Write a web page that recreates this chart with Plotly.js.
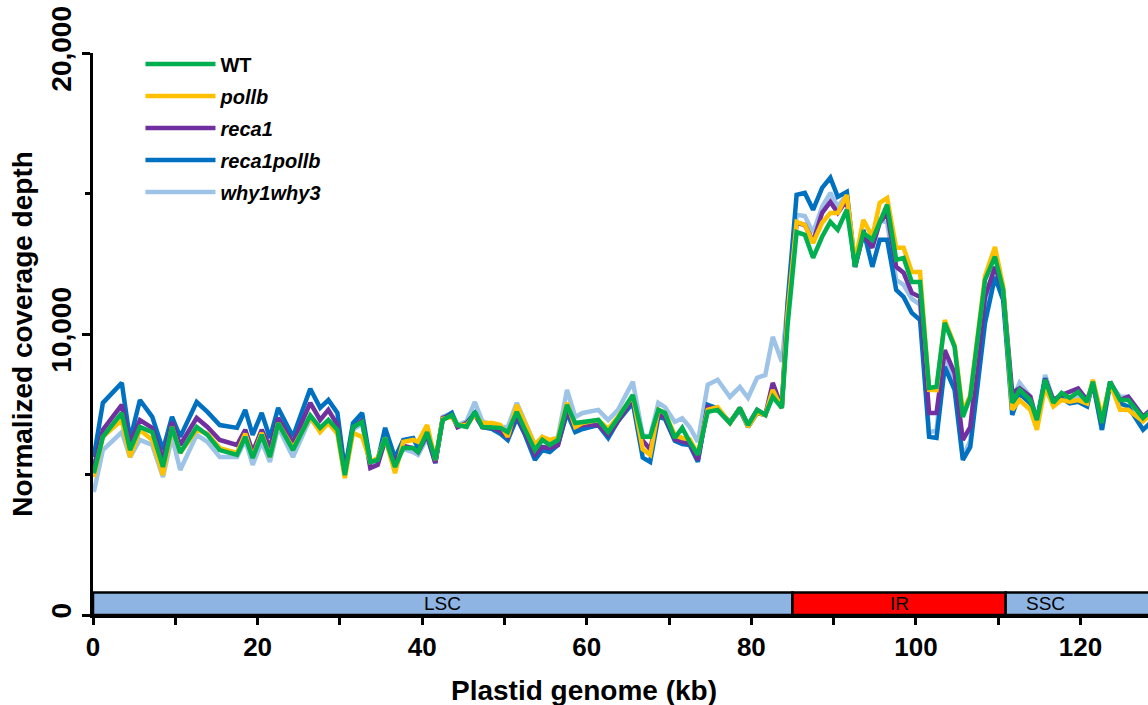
<!DOCTYPE html>
<html>
<head>
<meta charset="utf-8">
<script src="https://cdn.plot.ly/plotly-3.0.1.min.js"></script>
<style>html,body{margin:0;padding:0;background:#fff;}#chart{width:1148px;height:705px;}</style>
</head>
<body>
<div id="chart"></div>
<script>
// Position along plastid genome (kb)
const kb = [0.1,1.2,3.5,4.5,5.7,7.2,8.5,9.6,10.6,12.6,13.9,15.4,17.5,18.5,19.4,20.5,21.5,22.5,24.3,26.4,
27.6,28.6,29.7,30.6,31.6,32.7,33.7,34.6,35.5,36.7,37.7,38.9,39.5,40.6,41.6,42.5,43.6,44.3,45.4,46.4,
47.3,48.5,49.5,50.4,51.5,52.5,53.7,54.6,55.5,56.5,57.6,58.6,59.5,61.4,62.6,63.8,65.6,66.8,67.7,68.7,
69.5,70.7,71.6,72.5,73.5,74.7,75.9,77.4,78.6,79.6,80.7,81.7,82.6,83.7,84.4,85.5,86.5,87.5,88.6,89.6,
90.5,91.6,92.6,93.6,94.7,95.6,96.5,97.6,98.5,99.5,100.5,101.6,102.5,103.5,104.7,105.7,106.6,108.4,109.6,110.6,
111.7,112.6,113.9,114.7,115.7,116.7,117.7,118.7,119.7,120.8,121.5,122.6,123.6,124.8,125.8,127.6,128.7];

const wt = [5050,6340,7190,5870,6690,6510,5270,6690,5770,6690,6410,5870,5700,6340,5590,6410,5620,6830,5870,7100,
6660,6940,6590,4980,6690,6870,5450,5520,6300,5270,5940,5940,5800,6510,5520,6940,7120,6760,6690,7230,
6690,6690,6660,6510,7230,6590,5870,6230,6050,6230,7480,6830,6870,6940,6510,7010,7830,6340,6340,7300,
7190,6300,6660,6160,5700,7230,7300,6830,7370,6760,7300,7120,7760,7370,10300,13630,13530,12710,13460,13990,
13710,14420,12390,13600,13350,13960,14600,12640,12710,11850,11850,8080,8120,10400,9540,7050,7760,11930,12750,11570,
7550,8010,7650,6940,8370,7550,7900,7730,7940,7580,8300,6830,8300,7650,7650,7010,7300];

const pollb = [4910,6340,6940,5620,6590,6230,4980,6690,5770,6590,6450,5940,5770,6450,5620,6480,5620,6830,5940,7050,
6510,6830,6450,4870,6480,6340,5450,5590,6300,5050,6160,6230,6160,6760,5520,6980,7050,6760,6760,7120,
6830,6830,6760,6340,7480,6800,6050,6340,6230,6300,7550,6690,6830,6940,6620,7050,7800,5900,5700,7300,
7190,6400,6300,6250,5730,7300,7400,6830,7370,6700,7200,7120,8010,7370,10700,13990,13880,13240,13960,14310,
14310,14950,12530,14060,13460,14670,14840,13070,13070,12210,12210,8010,8000,10500,9600,7250,7800,12060,13100,11700,
7300,7650,7300,6590,8120,7420,7650,7590,7650,7530,8370,7060,8240,7300,7300,6890,7200];

const reca1 = [5270,6590,7480,6120,6940,6660,5520,6870,6050,7010,6690,6230,6050,6590,5800,6590,5980,7010,6120,7550,
6940,7300,6760,5050,6660,6940,5230,5340,6230,5410,6020,5940,5800,6410,5410,7010,7120,6690,6830,7120,
6690,6660,6550,6340,7120,6450,5700,5980,5940,6050,7300,6690,6760,6760,6410,6900,7690,6200,5900,7120,
7050,6250,6160,6100,5520,7400,7300,6850,7370,6760,7300,7120,8260,7370,10800,13960,13880,13280,14310,14700,
14310,14770,12390,13530,13070,13960,14310,12390,12180,11460,11320,7190,7190,9430,8610,6230,6690,11320,12390,11570,
7900,8070,7770,6880,8400,7650,7830,7940,8060,7650,8240,6830,8300,7650,7770,7060,7350];

const reca1pollb = [5620,7550,8260,6230,7650,7050,5870,7050,6340,7580,7230,6760,6660,7300,6410,7190,6300,7370,6340,8050,
7370,7650,7190,5160,6830,7190,5450,5520,6660,5590,6230,6300,5940,6410,5410,6980,7190,6690,6830,7190,
6690,6620,6450,6230,7010,6410,5520,5870,5800,6050,7190,6510,6620,6760,6300,6900,7550,5600,5450,7050,
6980,6200,6080,6050,5450,7480,7350,6850,7300,6690,7190,7120,7940,7370,11110,14950,15020,14420,15200,15560,
14880,15060,12390,13710,12390,13350,13350,11570,11320,10750,10500,6340,6300,8830,8010,5520,5980,10400,12030,11210,
7120,7880,7530,6710,8430,7530,7710,7530,7590,7420,8300,6590,8240,7530,7420,6590,6900];

const why1why3 = [4380,5870,6510,5620,6230,6050,4910,6340,5160,6410,6160,5620,5620,6230,5340,6160,5450,6690,5620,7000,
6550,6850,6500,5000,6600,6800,5300,5400,6200,5590,5900,5800,5700,6300,5400,7050,7190,6760,6900,7580,
6900,6760,6690,6690,7550,6830,6050,6340,6160,6340,8010,7050,7190,7300,6940,7300,8300,6400,6340,7550,
7400,6870,7000,6690,6160,8190,8370,7760,8120,7730,8440,8540,9900,9010,11000,14240,14200,13600,14530,15020,
14530,14950,12390,13600,13170,14060,13960,11930,11750,11250,11040,6480,6590,9190,8330,5620,6200,10900,12280,11400,
7650,8260,7770,6940,8540,7650,7770,7710,7770,7530,8240,6590,8240,7770,7770,7060,7350];

// Genome regions (kb)
const regionNames = ['LSC', 'IR', 'SSC'];
const regionStart = [0, 85.0, 110.9];
const regionEnd = [85.0, 110.9, 160];
const regionColors = ['#8EB4E3', '#FF0000', '#8EB4E3'];
const regionHeight = 800;

// drawn bottom to top; legend rank gives WT first
const seriesNames = ['<i>why1why3</i>', '<i>reca1pollb</i>', '<i>reca1</i>', '<i>pollb</i>', 'WT'];
const seriesData = [why1why3, reca1pollb, reca1, pollb, wt];
const seriesColors = ['#9DC3E6', '#0070C0', '#7030A0', '#FFC000', '#00B050'];
const seriesRank = [5, 4, 3, 2, 1];

const traces = seriesData.map((y, i) => ({
  x: kb, y: y, type: 'scatter', mode: 'lines', name: seriesNames[i],
  legendgroup: 'g' + i, legendrank: seriesRank[i],
  line: {color: seriesColors[i], width: 4.5}
}));

const shapes = regionNames.map((n, i) => ({
  type: 'rect', xref: 'x', yref: 'y', layer: 'below',
  x0: regionStart[i], x1: regionEnd[i], y0: 0, y1: regionHeight,
  fillcolor: regionColors[i], line: {color: 'black', width: 2.5}
}));

const FONT = 'Liberation Sans, Arial, sans-serif';
const annotations = regionNames.map((n, i) => ({
  xref: 'x', yref: 'y', x: (regionStart[i] + Math.min(regionEnd[i], 128.2)) / 2 + (i === 2 ? -3.8 : 0), y: regionHeight / 2,
  text: n, showarrow: false,
  font: {family: 'Liberation Sans Narrow, Liberation Sans, Arial', size: 19, color: '#000'}
}));
annotations.push({
  xref: 'paper', yref: 'paper', x: 0.465, y: -0.135, yanchor: 'middle', xanchor: 'center',
  text: '<b>Plastid genome (kb)</b>', showarrow: false,
  font: {family: FONT, size: 28, color: 'black'}
});

const layout = {
  width: 1148, height: 705,
  margin: {l: 93, r: 0, t: 53, b: 90},
  paper_bgcolor: '#fff', plot_bgcolor: '#fff',
  showlegend: true,
  legend: {
    x: 0.045, y: 1.015, xanchor: 'left', yanchor: 'top',
    traceorder: 'grouped', tracegroupgap: 3,
    bgcolor: 'rgba(0,0,0,0)', itemwidth: 70,
    font: {family: FONT, size: 20, color: 'black', weight: 'bold'}
  },
  xaxis: {
    range: [0, 128.2], showgrid: false, zeroline: false,
    showline: true, linecolor: 'black', linewidth: 3,
    ticks: 'outside', ticklen: 7, tickwidth: 3, tickcolor: 'black',
    tickmode: 'linear', tick0: 0, dtick: 20,
    minor: {dtick: 10, ticks: 'outside', ticklen: 7, tickwidth: 3, tickcolor: 'black'},
    tickfont: {family: FONT, size: 26, color: 'black', weight: 'bold'}
  },
  yaxis: {
    range: [0, 20000], showgrid: false, zeroline: false,
    showline: true, linecolor: 'black', linewidth: 3,
    ticks: 'outside', ticklen: 8, tickwidth: 3, tickcolor: 'black',
    tickmode: 'linear', tick0: 0, dtick: 10000, tickformat: ',d', tickangle: -90,
    minor: {dtick: 5000, ticks: 'outside', ticklen: 5, tickwidth: 3, tickcolor: 'black'},
    tickfont: {family: FONT, size: 28, color: 'black', weight: 'bold'},
    title: {text: 'Normalized coverage depth', standoff: 5,
      font: {family: FONT, size: 28, color: 'black', weight: 'bold'}}
  },
  shapes: shapes,
  annotations: annotations
};

Plotly.newPlot('chart', traces, layout, {displayModeBar: false, staticPlot: true});
</script>
</body>
</html>
